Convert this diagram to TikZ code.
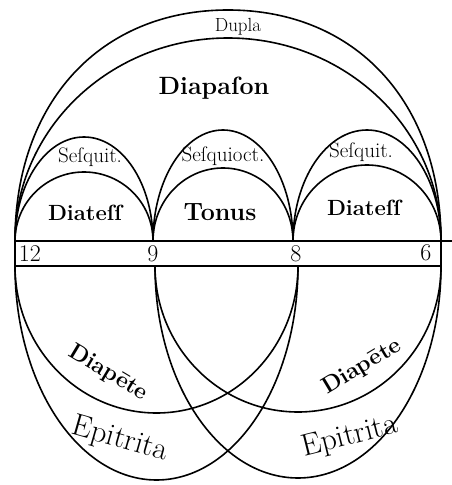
\documentclass[tikz,border=0pt]{standalone}
\usepackage{fontspec}
\begin{document}
\begin{tikzpicture}[x=1pt,y=1pt,
  arcline/.style={line width=1.6pt, line cap=round},
  small/.style={font=\fontsize{21}{21}\selectfont},
  mid/.style={font=\bfseries\fontsize{22}{22}\selectfont},
  big/.style={font=\fontsize{31}{31}\selectfont},
  num/.style={font=\fontsize{24}{24}\selectfont}]
\useasboundingbox (0,0) rectangle (452,485);
% strip points
\coordinate (t12) at (15,244);
\coordinate (t9) at (153,244);
\coordinate (t8) at (293,244);
\coordinate (t6) at (441,244);
\coordinate (tend) at (452,244);
\coordinate (b12) at (15,219);
\coordinate (b9) at (155,219);
\coordinate (b8) at (298,219);
\coordinate (b6) at (441,219);
% strip
\draw[arcline] (t12) -- (tend);
\draw[arcline] (b12) -- (b6);
\draw[arcline] (t12) -- (b12);
\draw[arcline] (t6) -- (b6);
% upper arcs
\coordinate (duptop) at (228,475);
\draw[arcline] (t12) .. controls (15,382.6) and (100.2,475) .. (duptop)
  .. controls (355.8,475) and (441,382.6) .. (t6);
\draw[arcline] (t12) arc[start angle=180,end angle=0,x radius=213,y radius=203];
\draw[arcline] (t12) arc[start angle=180,end angle=0,x radius=69,y radius=104];
\draw[arcline] (t9) arc[start angle=180,end angle=0,x radius=70,y radius=111];
\draw[arcline] (t8) arc[start angle=180,end angle=0,x radius=74,y radius=111];
\draw[arcline] (t12) arc[start angle=180,end angle=0,x radius=69,y radius=69];
\draw[arcline] (t9) arc[start angle=180,end angle=0,x radius=70,y radius=73];
\draw[arcline] (t8) arc[start angle=180,end angle=0,x radius=74,y radius=76];
% lower arcs
\draw[arcline] (b12) arc[start angle=180,end angle=360,x radius=141.5,y radius=147];
\draw[arcline] (b12) arc[start angle=180,end angle=360,x radius=141.5,y radius=214];
\draw[arcline] (b9) arc[start angle=180,end angle=360,x radius=143,y radius=146];
\draw[arcline] (b9) arc[start angle=180,end angle=360,x radius=143,y radius=212];
% labels
\node[font=\fontsize{19}{19}\selectfont] (dupla) at (238,458) {Dupla};
\node[font=\bfseries\fontsize{25}{25}\selectfont] (diapason) at (214,397) {Diapaſon};
\node[small] (sq1) at (90,328) {Seſquit.};
\node[small] (sq2) at (223,329) {Seſquioct.};
\node[small] (sq3) at (361,333) {Seſquit.};
\node[mid] (dt1) at (85,272) {Diateſſ};
\node[font=\bfseries\fontsize{25}{25}\selectfont] (ton) at (220,273) {Tonus};
\node[mid] (dt2) at (364,277) {Diateſſ};
\node[num] (n12) at (30,231) {12};
\node[num] (n9) at (153,231) {9};
\node[num] (n8) at (296,231) {8};
\node[num] (n6) at (426,232) {6};
\node[font=\bfseries\fontsize{23}{23}\selectfont, rotate=-31] (dp1) at (108,112) {Diapēte};
\node[font=\bfseries\fontsize{23}{23}\selectfont, rotate=31] (dp2) at (362,118) {Diapēte};
\node[big, rotate=-16] (ep1) at (120,45) {Epitrita};
\node[big, rotate=14] (ep2) at (350,48) {Epitrita};
\end{tikzpicture}
\end{document}
